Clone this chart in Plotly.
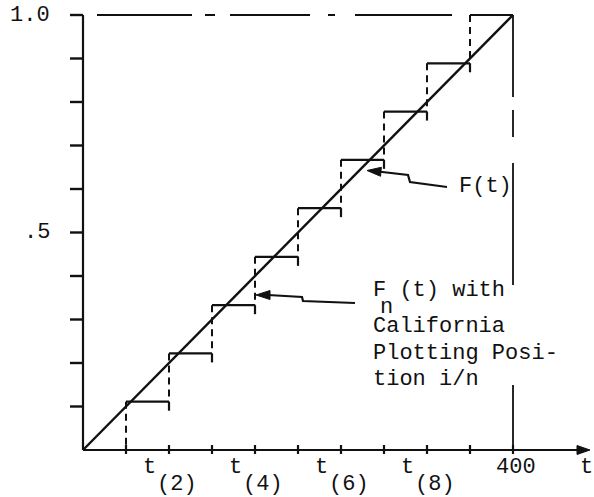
import plotly.graph_objects as go

# ---------------- data ----------------
order_t = [40, 80, 120, 160, 200, 240, 280, 320, 360]          # t(1) ... t(9)
Fn_levels = [0.111, 0.222, 0.333, 0.444, 0.556, 0.667, 0.778, 0.889, 1.0]  # i/n, n = 9
t_max = 400
F_line_t = [0, 400]
F_line_y = [0.0, 1.0]
x_tick_vals = [40, 80, 120, 160, 200, 240, 280, 320, 360, 400]
y_tick_vals = [0.1, 0.2, 0.3, 0.4, 0.5, 0.6, 0.7, 0.8, 0.9, 1.0]
y_tick_labels = ["", "", "", "", ".5", "", "", "", "", "1.0"]
x_label_index = [2, 4, 6, 8]
x_label_sub = ["(2)", "(4)", "(6)", "(8)"]

# ---------------- geometry helpers ----------------
W, H = 594, 497
X0_PX, PX_PER_X = 83.0, 1.075
Y0_PX, PX_PER_Y = 450.0, 435.0
x_range = [-X0_PX / PX_PER_X, (W - X0_PX) / PX_PER_X]
y_range = [-(H - Y0_PX) / PX_PER_Y, Y0_PX / PX_PER_Y]


def dx(px):
    return px / PX_PER_X


def dy(px):
    return px / PX_PER_Y


FONT = "Liberation Mono, Courier New, monospace"
INK = "#111111"
FS = 22

fig = go.Figure()

# axes
fig.add_trace(go.Scatter(x=[0, 0], y=[0, 1.0], mode="lines",
                         line=dict(color=INK, width=2.2), hoverinfo="skip"))
x_axis_end = x_range[1] - dx(16)
fig.add_trace(go.Scatter(x=[0, x_axis_end], y=[0, 0], mode="lines",
                         line=dict(color=INK, width=2.2), hoverinfo="skip"))
# arrow head on the t axis
tip = x_range[1] - dx(4)
fig.add_trace(go.Scatter(x=[tip, tip - dx(13), tip - dx(13), tip],
                         y=[0, dy(4.5), -dy(4.5), 0], mode="lines",
                         fill="toself", fillcolor=INK,
                         line=dict(color=INK, width=1), hoverinfo="skip"))

# y ticks
yt_x, yt_y = [], []
for v in y_tick_vals:
    yt_x += [-dx(13), 0, None]
    yt_y += [v, v, None]
fig.add_trace(go.Scatter(x=yt_x, y=yt_y, mode="lines",
                         line=dict(color=INK, width=2.4), hoverinfo="skip"))
# x ticks (crossing the axis)
xt_x, xt_y = [], []
for v in x_tick_vals:
    xt_x += [v, v, None]
    xt_y += [-dy(4), dy(5), None]
fig.add_trace(go.Scatter(x=xt_x, y=xt_y, mode="lines",
                         line=dict(color=INK, width=2.2), hoverinfo="skip"))

# dashed frame lines at F = 1 and t = 400
fig.add_trace(go.Scatter(x=[dx(14), order_t[-1] - dx(2)], y=[1.0, 1.0], mode="lines",
                         line=dict(color=INK, width=2,
                                   dash="95px,13px,10px,15px,80px,18px,7px,20px,97px,20px"),
                         hoverinfo="skip"))
fig.add_trace(go.Scatter(x=[t_max, t_max], y=[1.0, 0], mode="lines",
                         line=dict(color=INK, width=1.8,
                                   dash="82px,13px,27px,26px,122px,100px,65px,20px"),
                         hoverinfo="skip"))

# F(t)
fig.add_trace(go.Scatter(x=F_line_t, y=F_line_y, mode="lines",
                         line=dict(color=INK, width=2.4), hoverinfo="skip"))

# Fn(t): solid horizontal treads
hx, hy = [], []
for i, (t, lvl) in enumerate(zip(order_t, Fn_levels)):
    t_next = order_t[i + 1] if i + 1 < len(order_t) else t_max
    hx += [t, t_next, None]
    hy += [lvl, lvl, None]
    if i + 1 < len(order_t):
        hx += [t_next, t_next, None]
        hy += [lvl, lvl - dy(9), None]
fig.add_trace(go.Scatter(x=hx, y=hy, mode="lines",
                         line=dict(color=INK, width=2.2), hoverinfo="skip"))
# Fn(t): dashed risers
vx, vy = [], []
prev = 0.0
for t, lvl in zip(order_t, Fn_levels):
    vx += [t, t, None]
    vy += [lvl, prev, None]
    prev = lvl
fig.add_trace(go.Scatter(x=vx, y=vy, mode="lines",
                         line=dict(color=INK, width=2, dash="7px,5px"),
                         hoverinfo="skip"))

# pointer arrows (hand-drawn squiggles)
arrow1_x = [dx(447 - X0_PX), dx(410 - X0_PX), dx(408 - X0_PX), dx(378 - X0_PX)]
arrow1_y = [dy(Y0_PX - 187), dy(Y0_PX - 182), dy(Y0_PX - 175), dy(Y0_PX - 171.5)]
arrow2_x = [dx(355 - X0_PX), dx(303 - X0_PX), dx(302 - X0_PX), dx(268 - X0_PX)]
arrow2_y = [dy(Y0_PX - 303), dy(Y0_PX - 301), dy(Y0_PX - 297), dy(Y0_PX - 295)]
for ax_, ay_ in [(arrow1_x, arrow1_y), (arrow2_x, arrow2_y)]:
    fig.add_trace(go.Scatter(x=ax_, y=ay_, mode="lines",
                             line=dict(color=INK, width=2.2), hoverinfo="skip"))
heads = [((arrow1_x[-1], arrow1_y[-1]), (dx(367 - X0_PX), dy(Y0_PX - 170.5))),
         ((arrow2_x[-1], arrow2_y[-1]), (dx(256 - X0_PX), dy(Y0_PX - 295)))]
for (bx, by), (hx_, hy_) in heads:
    ux, uy = (hx_ - bx) * PX_PER_X, (hy_ - by) * PX_PER_Y
    L = (ux ** 2 + uy ** 2) ** 0.5
    ux, uy = ux / L, uy / L
    base_x_px = hx_ * PX_PER_X - ux * 14
    base_y_px = hy_ * PX_PER_Y - uy * 14
    px_, py_ = -uy, ux
    fig.add_trace(go.Scatter(
        x=[hx_, (base_x_px + px_ * 4.5) / PX_PER_X, (base_x_px - px_ * 4.5) / PX_PER_X, hx_],
        y=[hy_, (base_y_px + py_ * 4.5) / PX_PER_Y, (base_y_px - py_ * 4.5) / PX_PER_Y, hy_],
        mode="lines", fill="toself", fillcolor=INK,
        line=dict(color=INK, width=1), hoverinfo="skip"))

# ---------------- text ----------------
ann = []


def text(x, y, s, xanchor="center", size=FS, height=None):
    a = dict(x=x, y=y, xref="x", yref="y", text=s, showarrow=False,
             xanchor=xanchor, yanchor="middle",
             font=dict(family=FONT, size=size, color=INK))
    if height is not None:
        a["height"] = height
    ann.append(a)


for v, lab in zip(y_tick_vals, y_tick_labels):
    if lab:
        text(-dx(31), v, lab, xanchor="right")
text(t_max + dx(3), -dy(17), "400")
text(x_range[1] - dx(8), -dy(17), "t")
for idx, sub in zip(x_label_index, x_label_sub):
    tv = order_t[idx - 1]
    text(tv - dx(20), -dy(17), "t")
    text(tv + dx(8), -dy(34), sub)

text(dx(457 - X0_PX), dy(Y0_PX - 186), "F(t)", xanchor="left")
block_x = dx(371 - X0_PX)
text(block_x, dy(Y0_PX - 290), "F (t) with", xanchor="left", height=21)
text(block_x + dx(15), dy(Y0_PX - 307), "n", xanchor="center", height=12)
text(block_x, dy(Y0_PX - 326), "California", xanchor="left", height=22)
text(block_x, dy(Y0_PX - 353), "Plotting Posi-", xanchor="left")
text(block_x, dy(Y0_PX - 379), "tion i/n", xanchor="left")

fig.update_layout(
    width=W, height=H, autosize=False,
    margin=dict(l=0, r=0, t=0, b=0),
    paper_bgcolor="white", plot_bgcolor="white",
    showlegend=False,
    xaxis=dict(range=x_range, visible=False, fixedrange=True),
    yaxis=dict(range=y_range, visible=False, fixedrange=True),
    annotations=ann,
)

fig.write_html("out.html",
               config={"displayModeBar": False, "staticPlot": True},
               post_script="document.body.style.margin='0';document.body.style.overflow='hidden';")
